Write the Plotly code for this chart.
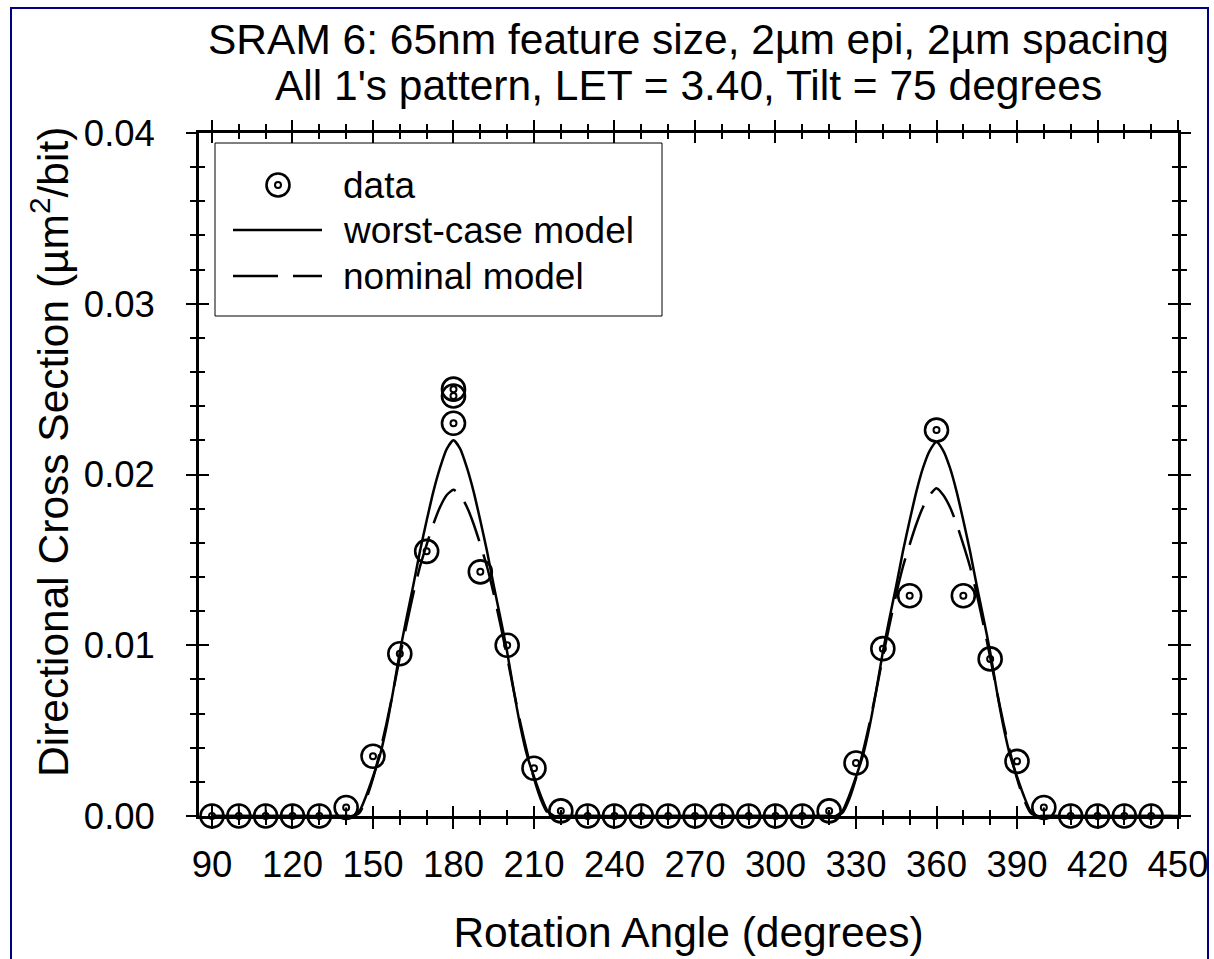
import plotly.graph_objects as go

# ---------------- data ----------------
angle = [90, 100, 110, 120, 130, 140, 150, 160, 170, 180, 180, 180, 190, 200, 210, 220,
         230, 240, 250, 260, 270, 280, 290, 300, 310, 320, 330, 340, 350, 360, 370, 380,
         390, 400, 410, 420, 430, 440]
cross_section = [0, 0, 0, 0, 0, 0.0005, 0.0035, 0.0095, 0.0155, 0.0230, 0.0246, 0.0250,
                 0.0143, 0.0100, 0.0028, 0.0003, 0, 0, 0, 0, 0, 0, 0, 0, 0, 0.0003, 0.0031,
                 0.0098, 0.0129, 0.0226, 0.0129, 0.0092, 0.0032, 0.0005, 0, 0, 0, 0]
err_plus = [0.00065, 0.00065, 0.00065, 0.00065, 0.00065, 0, 0, 0, 0, 0, 0, 0,
            0, 0, 0, 0, 0.00065, 0.00065, 0.00065, 0.00065, 0.00065, 0.00065, 0.00065, 0.00065, 0.00065, 0, 0,
            0, 0, 0, 0, 0, 0, 0, 0.00065, 0.00065, 0.00065, 0.00065]
err_minus = [0.00065, 0.00065, 0.00065, 0.00065, 0.00065, 0.0009, 0, 0, 0, 0, 0, 0,
             0, 0, 0, 0.0006, 0.00065, 0.00065, 0.00065, 0.00065, 0.00065, 0.00065, 0.00065, 0.00065, 0.00065, 0.0006, 0,
             0, 0, 0, 0, 0, 0, 0.0009, 0.00065, 0.00065, 0.00065, 0.00065]

model_angle = [90, 137.5, 140, 142.5, 145, 147.5, 150, 152.5, 155, 157.5, 160, 162.5, 165, 167.5,
               170, 172.5, 175, 177.5, 180, 182.5, 185, 187.5, 190, 192.5, 195, 197.5, 200,
               202.5, 205, 207.5, 210, 212.5, 215, 217.5, 220, 222.5,
               317.5, 320, 322.5, 325, 327.5, 330, 332.5, 335, 337.5, 340, 342.5, 345, 347.5,
               350, 352.5, 355, 357.5, 360, 362.5, 365, 367.5, 370, 372.5, 375, 377.5, 380,
               382.5, 385, 387.5, 390, 392.5, 395, 397.5, 400, 402.5, 450]
worst_case = [0, 0, 0, 0, 0.0003, 0.0012, 0.0023, 0.0035, 0.0052, 0.0073, 0.0096, 0.0116, 0.0135, 0.0155,
              0.0173, 0.0190, 0.0204, 0.0215, 0.0220, 0.0215, 0.0204, 0.0190, 0.0173, 0.0155, 0.0135, 0.0116, 0.0096,
              0.0073, 0.0052, 0.0035, 0.0023, 0.0012, 0.0003, 0, 0, 0,
              0, 0, 0, 0.0003, 0.0012, 0.0023, 0.0035, 0.0052, 0.0073, 0.0096, 0.0116, 0.0135, 0.0155,
              0.0173, 0.0190, 0.0204, 0.0214, 0.0219, 0.0214, 0.0204, 0.0190, 0.0173, 0.0155, 0.0135, 0.0116, 0.0096,
              0.0073, 0.0052, 0.0035, 0.0023, 0.0012, 0.0003, 0, 0, 0, 0]
nominal = [0, 0, 0, 0, 0.0002, 0.0010, 0.0022, 0.0037, 0.0054, 0.0073, 0.0093, 0.0112, 0.0130, 0.0146,
           0.0159, 0.0171, 0.0181, 0.0188, 0.0191, 0.0188, 0.0181, 0.0171, 0.0159, 0.0146, 0.0130, 0.0112, 0.0093,
           0.0073, 0.0054, 0.0037, 0.0022, 0.0010, 0.0002, 0, 0, 0,
           0, 0, 0, 0.0002, 0.0010, 0.0022, 0.0037, 0.0054, 0.0073, 0.0093, 0.0112, 0.0130, 0.0146,
           0.0159, 0.0171, 0.0181, 0.0188, 0.0192, 0.0188, 0.0181, 0.0171, 0.0159, 0.0146, 0.0130, 0.0112, 0.0093,
           0.0073, 0.0054, 0.0037, 0.0022, 0.0010, 0.0002, 0, 0, 0, 0]

title_lines = ["SRAM 6: 65nm feature size, 2µm epi, 2µm spacing",
               "All 1's pattern, LET = 3.40, Tilt = 75 degrees"]
x_title = "Rotation Angle (degrees)"
y_title = "Directional Cross Section (µm<sup>2</sup>/bit)"
legend_labels = ["data", "worst-case model", "nominal model"]

# ---------------- layout geometry ----------------
W, H = 1214, 959
L, R, T, B = 199, 36, 133, 143
PW, PH = W - L - R, H - T - B
FONT = "Liberation Sans, Arial, Helvetica, sans-serif"
DASH = "42px,14px"


def px(xpix):
    return (xpix - L) / PW


def py(ypix):
    return (H - B - ypix) / PH


fig = go.Figure()

fig.add_trace(go.Scatter(x=model_angle, y=worst_case, mode="lines", showlegend=False,
                         line=dict(color="black", width=2.5, shape="spline", smoothing=0.6)))
fig.add_trace(go.Scatter(x=model_angle, y=nominal, mode="lines", showlegend=False,
                         line=dict(color="black", width=2.5, dash=DASH, shape="spline", smoothing=0.6)))
fig.add_trace(go.Scatter(x=angle, y=cross_section, mode="markers", showlegend=False, cliponaxis=False,
                         marker=dict(symbol="circle-open", size=23, color="black", line=dict(width=2.6)),
                         error_y=dict(type="data", symmetric=False, array=err_plus, arrayminus=err_minus,
                                      color="black", thickness=2, width=0)))
fig.add_trace(go.Scatter(x=angle, y=cross_section, mode="markers", showlegend=False, cliponaxis=False,
                         xaxis="x2", yaxis="y2",
                         marker=dict(symbol="circle-open", size=6, color="black", line=dict(width=2))))

xr = [85.16, 450]
yr = [0, 0.04]
tickfont = dict(family=FONT, size=36.5, color="black")
common_x = dict(range=xr, tick0=90, dtick=30, showgrid=False, zeroline=False, showline=True,
                linecolor="black", linewidth=2.6, tickcolor="black", tickwidth=2.2, ticklen=10,
                mirror="ticks")
common_y = dict(range=yr, tick0=0, dtick=0.01, showgrid=False, zeroline=False, showline=True,
                linecolor="black", linewidth=2.6, tickcolor="black", tickwidth=2.2, ticklen=10,
                mirror="ticks")

fig.update_layout(
    width=W, height=H,
    margin=dict(l=L, r=R, t=T, b=B, autoexpand=False),
    paper_bgcolor="white", plot_bgcolor="white",
    font=dict(family=FONT, color="black"),
    showlegend=False,
    xaxis=dict(**common_x, ticks="outside", tickfont=tickfont, ticklabelstandoff=4,
               minor=dict(ticks="outside", ticklen=6, tick0=90, dtick=10, tickcolor="black", tickwidth=1.8),
               title=dict(text=x_title, font=dict(family=FONT, size=42.5), standoff=34)),
    xaxis2=dict(**common_x, ticks="inside", overlaying="x", anchor="y2", side="bottom",
                showticklabels=False,
                minor=dict(ticks="inside", ticklen=6, tick0=90, dtick=10, tickcolor="black", tickwidth=1.8)),
    yaxis=dict(**common_y, ticks="outside", tickfont=tickfont, tickformat=".2f", ticklabelstandoff=24,
               minor=dict(ticks="outside", ticklen=6, tick0=0, dtick=0.002, tickcolor="black", tickwidth=1.8)),
    yaxis2=dict(**common_y, ticks="inside", overlaying="y", anchor="x2", side="left",
                showticklabels=False,
                minor=dict(ticks="inside", ticklen=6, tick0=0, dtick=0.002, tickcolor="black", tickwidth=1.8)),
)

# y-axis title as rotated annotation (placed like the reference)
fig.add_annotation(text=y_title, xref="paper", yref="paper", x=px(50), y=py(452),
                   xanchor="center", yanchor="middle", textangle=-90, showarrow=False,
                   font=dict(family=FONT, size=42.5, color="black"))

# title lines
fig.add_annotation(text=title_lines[0], xref="paper", yref="paper", x=px(688), y=py(40),
                   xanchor="center", yanchor="middle", showarrow=False,
                   font=dict(family=FONT, size=42.5, color="black"))
fig.add_annotation(text=title_lines[1], xref="paper", yref="paper", x=px(688), y=py(85),
                   xanchor="center", yanchor="middle", showarrow=False,
                   font=dict(family=FONT, size=42.5, color="black"))

# outer navy frame
fig.add_shape(type="rect", xref="paper", yref="paper", x0=px(11), x1=px(1208), y0=py(985), y1=py(8),
              line=dict(color="#000080", width=2), fillcolor="rgba(0,0,0,0)", layer="below")

# manual legend
fig.add_shape(type="rect", xref="paper", yref="paper", x0=px(215), x1=px(662), y0=py(316), y1=py(143),
              line=dict(color="black", width=1), fillcolor="white", layer="above")
rows = [185, 230, 276]
r_out, r_in = 11.5, 3
fig.add_shape(type="circle", xref="paper", yref="paper",
              x0=px(278 - r_out), x1=px(278 + r_out), y0=py(rows[0] + r_out), y1=py(rows[0] - r_out),
              line=dict(color="black", width=2.6), layer="above")
fig.add_shape(type="circle", xref="paper", yref="paper",
              x0=px(278 - r_in), x1=px(278 + r_in), y0=py(rows[0] + r_in), y1=py(rows[0] - r_in),
              line=dict(color="black", width=2), layer="above")
fig.add_shape(type="line", xref="paper", yref="paper", x0=px(233), x1=px(322), y0=py(rows[1]), y1=py(rows[1]),
              line=dict(color="black", width=2.5), layer="above")
fig.add_shape(type="line", xref="paper", yref="paper", x0=px(233), x1=px(322), y0=py(rows[2]), y1=py(rows[2]),
              line=dict(color="black", width=2.5, dash="45px,15px"), layer="above")
for lbl, ry in zip(legend_labels, rows):
    fig.add_annotation(text=lbl, xref="paper", yref="paper", x=px(341), y=py(ry),
                       xanchor="left", yanchor="middle", showarrow=False,
                       font=dict(family=FONT, size=37, color="black"))

fig.write_html("out.html")
